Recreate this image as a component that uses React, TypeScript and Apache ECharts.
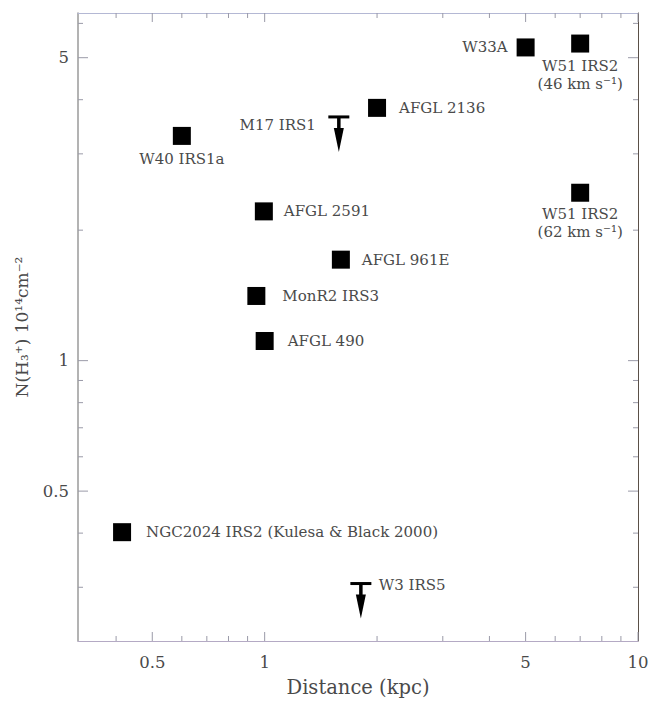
import React, { useEffect, useRef } from "react";
import * as echarts from "echarts";

// ---- data ----
const sourceNames = [
  "W40 IRS1a",
  "AFGL 2591",
  "MonR2 IRS3",
  "AFGL 490",
  "NGC2024 IRS2 (Kulesa & Black 2000)",
  "AFGL 2136",
  "W33A",
  "W51 IRS2\n(46 km s⁻¹)",
  "W51 IRS2\n(62 km s⁻¹)",
  "AFGL 961E",
];
const distances = [0.6, 0.995, 0.95, 1.0, 0.415, 2.0, 5.0, 7.0, 7.0, 1.6];
const columns = [3.3, 2.21, 1.41, 1.11, 0.402, 3.83, 5.28, 5.39, 2.44, 1.71];

const limitNames = ["M17 IRS1", "W3 IRS5"];
const limitDistances = [1.58, 1.81];
const limitColumns = [3.65, 0.306];

const xMajorTicks = [0.5, 1, 5, 10];
const xTickLabels = ["0.5", "1", "5", "10"];
const xMinorTicks = [0.4, 0.6, 0.7, 0.8, 0.9, 2, 3, 4, 6, 7, 8, 9];
const yMajorTicks = [0.5, 1, 5];
const yTickLabels = ["0.5", "1", "5"];
const yMinorTicks = [0.3, 0.4, 0.6, 0.7, 0.8, 0.9, 2, 3, 4, 6];

// ---- axis extents ----
const X_MIN = 0.31623;
const X_MAX = 10;
const Y_MIN = 0.2255;
const Y_MAX = 6.34;

// ---- styles ----
const FONT = "DejaVu Serif";
const TEXT_COLOR = "#4a4a4a";
const TICK_COLOR = "#9a9aa8";
const LABEL_SIZE = 15;

const labelStyles: any[] = [
  { position: "bottom", distance: 5 },
  { position: "right", distance: 11 },
  { position: "right", distance: 17 },
  { position: "right", distance: 14 },
  { position: "right", distance: 15 },
  { position: "right", distance: 13 },
  { position: "left", distance: 9 },
  { position: "bottom", distance: 4 },
  { position: "bottom", distance: 3 },
  { position: "right", distance: 12 },
];

const limitLabelStyles = [
  { dx: -23, dy: 8, align: "right" },
  { dx: 18, dy: 1, align: "left" },
];

export default function App() {
  const ref = useRef<HTMLDivElement>(null);

  useEffect(() => {
    if (!ref.current) return;
    const chart = echarts.init(ref.current, undefined, { renderer: "svg" });

    const xTickData = [
      ...xMajorTicks.map((v) => [v, Y_MIN, 0]),
      ...xMinorTicks.map((v) => [v, Y_MIN, 1]),
    ];
    const yTickData = [
      ...yMajorTicks.map((v) => [X_MIN, v, 2]),
      ...yMinorTicks.map((v) => [X_MIN, v, 3]),
    ];
    const xLabelData = xMajorTicks.map((v, i) => [v, Y_MIN, i]);
    const yLabelData = yMajorTicks.map((v, i) => [X_MIN, v, i]);

    const logAxisBase = {
      type: "log" as const,
      logBase: 10,
      axisTick: { show: false },
      axisLabel: { show: false },
      splitLine: { show: false },
      minorTick: { show: false },
    };

    const option: any = {
      animation: false,
      backgroundColor: "#ffffff",
      grid: { left: 78, right: 13, top: 13, bottom: 55, containLabel: false },
      xAxis: [
        {
          ...logAxisBase,
          position: "bottom",
          min: X_MIN,
          max: X_MAX,
          axisLine: { show: true, lineStyle: { color: "#b4aac4", width: 1 } },
          name: "Distance (kpc)",
          nameLocation: "middle",
          nameGap: 36,
          nameTextStyle: { fontFamily: FONT, fontSize: 19.5, color: TEXT_COLOR },
        },
        {
          ...logAxisBase,
          position: "top",
          min: X_MIN,
          max: X_MAX,
          axisLine: { show: true, lineStyle: { color: "#b4b8d4", width: 1 } },
        },
      ],
      yAxis: [
        {
          ...logAxisBase,
          position: "left",
          min: Y_MIN,
          max: Y_MAX,
          axisLine: { show: true, lineStyle: { color: "#9a9a9a", width: 1.5 } },
          name: "N(H₃⁺) 10¹⁴cm⁻²",
          nameLocation: "middle",
          nameRotate: 90,
          nameGap: 48,
          nameTextStyle: { fontFamily: FONT, fontSize: 17, color: TEXT_COLOR },
        },
        {
          ...logAxisBase,
          position: "right",
          min: Y_MIN,
          max: Y_MAX,
          axisLine: { show: true, lineStyle: { color: "#5a5048", width: 1 } },
        },
      ],
      series: [
        {
          type: "custom",
          name: "xTicks",
          silent: true,
          xAxisIndex: 0,
          yAxisIndex: 0,
          data: xTickData,
          renderItem: (params: any, api: any) => {
            const v = api.value(0);
            const kind = api.value(2);
            const len = kind === 0 ? 9 : 5;
            const pb = api.coord([v, Y_MIN]);
            const pt = api.coord([v, Y_MAX]);
            const style = { stroke: TICK_COLOR, lineWidth: 1 };
            return {
              type: "group",
              children: [
                { type: "line", shape: { x1: pb[0], y1: pb[1], x2: pb[0], y2: pb[1] - len }, style },
                { type: "line", shape: { x1: pt[0], y1: pt[1], x2: pt[0], y2: pt[1] + len }, style },
              ],
            };
          },
        },
        {
          type: "custom",
          name: "yTicks",
          silent: true,
          xAxisIndex: 0,
          yAxisIndex: 0,
          data: yTickData,
          renderItem: (params: any, api: any) => {
            const v = api.value(1);
            const kind = api.value(2);
            const len = kind === 2 ? 10 : 5;
            const pl = api.coord([X_MIN, v]);
            const pr = api.coord([X_MAX, v]);
            const style = { stroke: TICK_COLOR, lineWidth: 1 };
            return {
              type: "group",
              children: [
                { type: "line", shape: { x1: pl[0], y1: pl[1], x2: pl[0] + len, y2: pl[1] }, style },
                { type: "line", shape: { x1: pr[0], y1: pr[1], x2: pr[0] - len, y2: pr[1] }, style },
              ],
            };
          },
        },
        {
          type: "custom",
          name: "xTickLabels",
          silent: true,
          data: xLabelData,
          renderItem: (params: any, api: any) => {
            const p = api.coord([api.value(0), Y_MIN]);
            return {
              type: "text",
              x: p[0],
              y: p[1] + 21,
              style: {
                text: xTickLabels[api.value(2)],
                fontFamily: FONT,
                fontSize: 16.5,
                fill: TEXT_COLOR,
                align: "center",
                verticalAlign: "middle",
              },
            };
          },
        },
        {
          type: "custom",
          name: "yTickLabels",
          silent: true,
          data: yLabelData,
          renderItem: (params: any, api: any) => {
            const p = api.coord([X_MIN, api.value(1)]);
            return {
              type: "text",
              x: p[0] - 9,
              y: p[1],
              style: {
                text: yTickLabels[api.value(2)],
                fontFamily: FONT,
                fontSize: 16.5,
                fill: TEXT_COLOR,
                align: "right",
                verticalAlign: "middle",
              },
            };
          },
        },
        {
          type: "scatter",
          name: "sources",
          symbol: "rect",
          symbolSize: 18,
          itemStyle: { color: "#000000", opacity: 1 },
          label: {
            show: true,
            formatter: "{b}",
            fontFamily: FONT,
            fontSize: LABEL_SIZE,
            lineHeight: 18,
            color: TEXT_COLOR,
          },
          data: sourceNames.map((n, i) => ({
            name: n,
            value: [distances[i], columns[i]],
            label: labelStyles[i],
          })),
        },
        {
          type: "custom",
          name: "upperLimits",
          silent: true,
          data: limitDistances.map((d, i) => [d, limitColumns[i], i]),
          renderItem: (params: any, api: any) => {
            const p = api.coord([api.value(0), api.value(1)]);
            const i = api.value(2);
            const ls = limitLabelStyles[i];
            return {
              type: "group",
              children: [
                { type: "rect", shape: { x: p[0] - 10.5, y: p[1] - 1.5, width: 21, height: 3 }, style: { fill: "#000" } },
                { type: "rect", shape: { x: p[0] - 1.75, y: p[1], width: 3.5, height: 13 }, style: { fill: "#000" } },
                {
                  type: "polygon",
                  shape: { points: [[p[0] - 5, p[1] + 11], [p[0] + 5, p[1] + 11], [p[0], p[1] + 35]] },
                  style: { fill: "#000" },
                },
                {
                  type: "text",
                  x: p[0] + ls.dx,
                  y: p[1] + ls.dy,
                  style: {
                    text: limitNames[i],
                    fontFamily: FONT,
                    fontSize: LABEL_SIZE,
                    fill: TEXT_COLOR,
                    align: ls.align,
                    verticalAlign: "middle",
                  },
                },
              ],
            };
          },
        },
      ],
    };

    chart.setOption(option);
    return () => chart.dispose();
  }, []);

  return (
    <div
      ref={ref}
      style={{ position: "fixed", left: 0, top: 0, width: 651, height: 702, background: "#fff" }}
    />
  );
}
